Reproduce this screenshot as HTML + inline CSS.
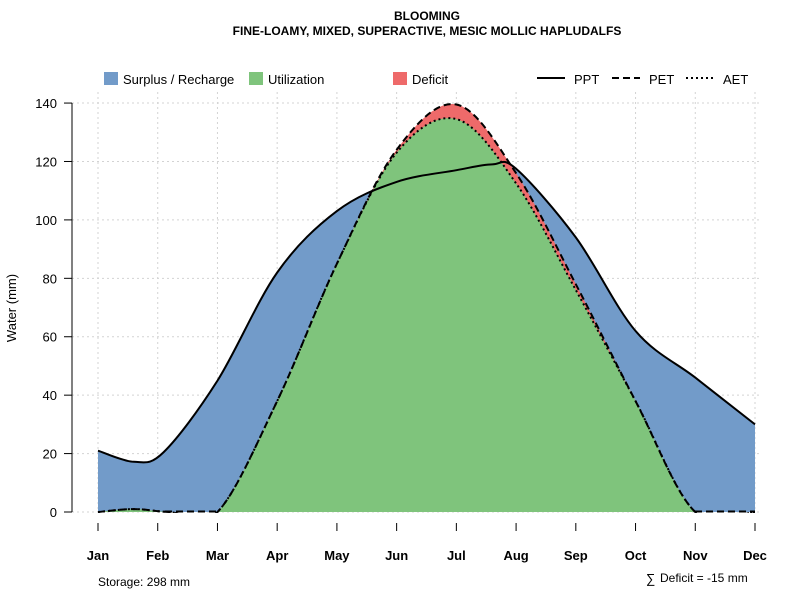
<!DOCTYPE html>
<html><head><meta charset="utf-8"><style>
body{margin:0;background:#fff;width:800px;height:600px;overflow:hidden}
text{font-family:"Liberation Sans",sans-serif}
</style></head><body>
<svg id="s" width="800" height="600" xmlns="http://www.w3.org/2000/svg">
<defs><clipPath id="c"><rect x="60" y="80" width="720" height="432"/></clipPath><clipPath id="c2"><rect x="60" y="80" width="720" height="433"/></clipPath></defs>
<text x="427" y="20" font-size="12" font-weight="bold" text-anchor="middle">BLOOMING</text>
<text x="427" y="35" font-size="12" font-weight="bold" text-anchor="middle">FINE-LOAMY, MIXED, SUPERACTIVE, MESIC MOLLIC HAPLUDALFS</text>
<g id="grid" stroke="#d3d3d3" stroke-dasharray="2,3" stroke-width="1"></g>
<g id="plot" clip-path="url(#c)"></g>
<g font-size="13">
<rect x="104" y="72" width="14" height="13" fill="#729bc9"/><text x="123" y="84">Surplus / Recharge</text>
<rect x="249" y="72" width="14" height="13" fill="#7fc47c"/><text x="268" y="84">Utilization</text>
<rect x="393" y="72" width="14" height="13" fill="#ee6a6a"/><text x="412" y="84">Deficit</text>
<line x1="537" y1="78" x2="565" y2="78" stroke="#000" stroke-width="2"/><text x="574" y="84">PPT</text>
<line x1="612" y1="78" x2="640" y2="78" stroke="#000" stroke-width="2" stroke-dasharray="7,4"/><text x="649" y="84">PET</text>
<line x1="686" y1="78" x2="714" y2="78" stroke="#000" stroke-width="2" stroke-dasharray="2,3"/><text x="723" y="84">AET</text>
</g>
<line x1="72" y1="103" x2="72" y2="512" stroke="#000"/>
<g stroke="#000" stroke-width="2" stroke-dasharray="7,4">
<line x1="165" y1="511.5" x2="220" y2="511.5"/>
<line x1="695" y1="511.5" x2="755" y2="511.5"/>
</g>
<g id="yt" font-size="13" text-anchor="end"></g>
<g id="xt" font-size="13" font-weight="bold" text-anchor="middle"></g>
<text x="16" y="308" font-size="13" text-anchor="middle" transform="rotate(-90 16 308)">Water (mm)</text>
<text x="98" y="586" font-size="12">Storage: 298 mm</text>
<text x="646" y="583" font-size="13">∑</text><text x="660" y="582" font-size="12">Deficit = -15 mm</text>
</svg>
<script>
var X=i=>98+i*59.727, Y=v=>512-v*2.921;
function P(a){return a.map(q=>[X(q[0]),Y(q[1])]);}
function spline(p){var d="M"+p[0][0].toFixed(1)+","+p[0][1].toFixed(1);
for(var i=0;i<p.length-1;i++){var p0=p[i-1]||p[i],p1=p[i],p2=p[i+1],p3=p[i+2]||p2;
var c1=[p1[0]+(p2[0]-p0[0])/6,p1[1]+(p2[1]-p0[1])/6],c2=[p2[0]-(p3[0]-p1[0])/6,p2[1]-(p3[1]-p1[1])/6];
d+=" C"+c1.map(n=>n.toFixed(1))+" "+c2.map(n=>n.toFixed(1))+" "+p2.map(n=>n.toFixed(1));}return d;}
var pp=P([[0,21],[0.6,17.2],[1.1,20.5],[2,45],[3,82],[4,103],[5,113],[6,117],[6.6,119],[7,117.5],[8,94],[9,62],[10,46],[11,30]]);
var pe=P([[0,0],[0.6,1],[1.2,0],[2,0],[3,38],[4,85],[5,124],[6,139.5],[7,116],[8,78],[9,38],[10,0],[11,0]]);
var ae=P([[0,0],[0.6,1],[1.2,0],[2,0],[3,38],[4,85],[5,123],[6,134.5],[7,112.5],[8,76],[9,38],[10,0],[11,0]]);
var base=" L"+X(11)+",512 L"+X(0)+",512 Z";
var g=document.getElementById("plot"),ns="http://www.w3.org/2000/svg";
function path(d,a,par){var e=document.createElementNS(ns,"path");e.setAttribute("d",d);for(var k in a)e.setAttribute(k,a[k]);(par||g).appendChild(e);}
path(spline(pp)+base,{fill:"#729bc9"});
path(spline(pe)+base,{fill:"#ee6a6a"});
path(spline(ae)+base,{fill:"#7fc47c"});
var gr=document.getElementById("grid"),h="";
for(var i=0;i<12;i++)h+='<line x1="'+X(i)+'" y1="92" x2="'+X(i)+'" y2="512"/>';
for(var v=0;v<=140;v+=20)h+='<line x1="72" y1="'+Y(v)+'" x2="760" y2="'+Y(v)+'"/>';
gr.innerHTML=h;
var s=document.getElementById("s");
var lg=document.createElementNS(ns,"g");lg.setAttribute("clip-path","url(#c2)");s.appendChild(lg);
path(spline(pp),{fill:"none",stroke:"#000","stroke-width":2},lg);
path(spline(pe),{fill:"none",stroke:"#000","stroke-width":2,"stroke-dasharray":"7,4"},lg);
path(spline(ae),{fill:"none",stroke:"#000","stroke-width":2,"stroke-dasharray":"2,3"},lg);
var yt="";for(v=0;v<=140;v+=20)yt+='<line x1="64" y1="'+Y(v)+'" x2="72" y2="'+Y(v)+'" stroke="#000"/><text x="57" y="'+(Y(v)+5)+'">'+v+'</text>';
document.getElementById("yt").innerHTML=yt;
var m=["Jan","Feb","Mar","Apr","May","Jun","Jul","Aug","Sep","Oct","Nov","Dec"],xt="";
for(i=0;i<12;i++)xt+='<line x1="'+X(i)+'" y1="523" x2="'+X(i)+'" y2="531" stroke="#000"/><text x="'+X(i)+'" y="560">'+m[i]+'</text>';
document.getElementById("xt").innerHTML=xt;
</script>
</body></html>
